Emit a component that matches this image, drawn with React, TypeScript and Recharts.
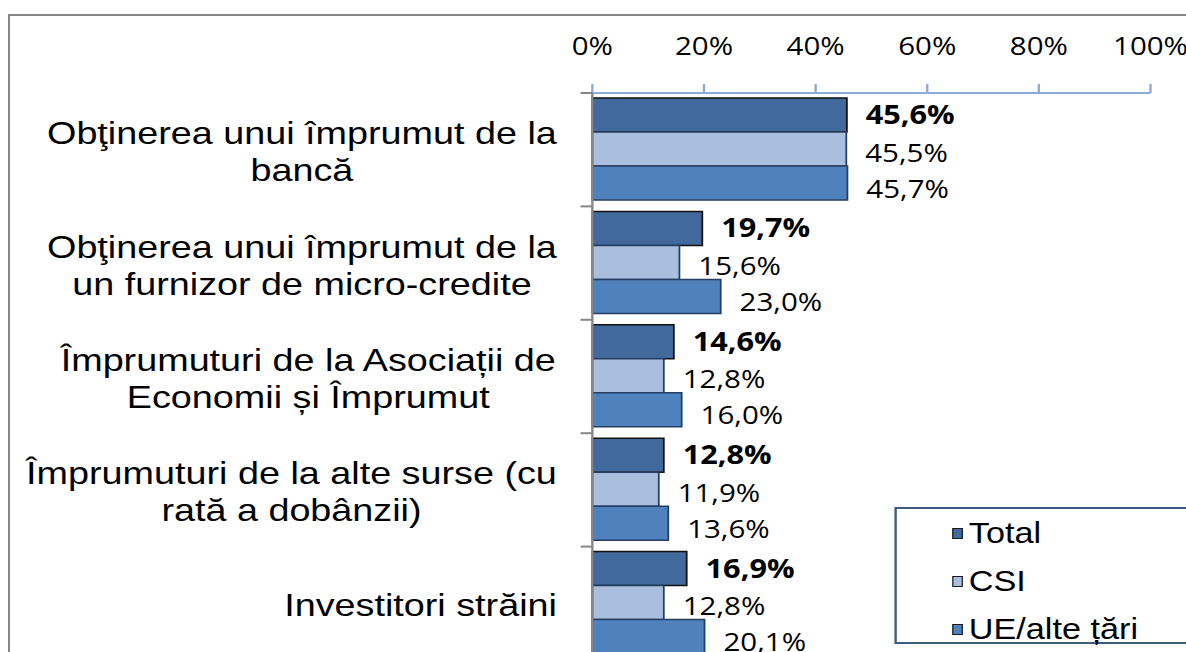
import React from "react";
import { BarChart, Bar, XAxis, YAxis, Legend, LabelList } from "recharts";

const categories = [
  "Obţinerea unui împrumut de la\nbancă",
  "Obţinerea unui împrumut de la\nun furnizor de micro-credite",
  "Împrumuturi de la Asociații de\nEconomii și Împrumut",
  "Împrumuturi de la alte surse (cu\nrată a dobânzii)",
  "Investitori străini",
];
const seriesNames = ["Total", "CSI", "UE/alte țări"];
const totalValues = [45.6, 19.7, 14.6, 12.8, 16.9];
const csiValues = [45.5, 15.6, 12.8, 11.9, 12.8];
const ueValues = [45.7, 23.0, 16.0, 13.6, 20.1];
const xTicks = [0, 20, 40, 60, 80, 100];

const data = categories.map((name, i) => ({
  name,
  total: totalValues[i],
  csi: csiValues[i],
  ue: ueValues[i],
}));

// the original picture is stretched horizontally, so draw narrower and scale
const SX = 1.18;
const W = 1005;
const H = 670;
const TOP = 93;
const BOTTOM = 10;
const AXIS_W = 502;
const BAND = (H - TOP - BOTTOM) / categories.length;
const ARIAL = "'Liberation Sans', Arial, sans-serif";
const CALIBRI = "'Open Sans', sans-serif";

let ctx: CanvasRenderingContext2D | null = null;
function textWidth(s: string, font: string) {
  if (!ctx) ctx = document.createElement("canvas").getContext("2d");
  if (!ctx) return s.length * 16;
  ctx.font = font;
  return ctx.measureText(s).width;
}

function CategoryTick({ y, payload }: any) {
  const lines = String(payload.value).split("\n");
  const maxW = Math.max(...lines.map((l) => textWidth(l, "32px 'Liberation Sans'")));
  const cx = 472 - maxW / 2;
  const n = lines.length;
  return (
    <g>
      <line x1={AXIS_W - 10} x2={AXIS_W} y1={y - BAND / 2} y2={y - BAND / 2} stroke="#868686" strokeWidth={2} />
      {lines.map((l, i) => (
        <text
          key={i}
          x={cx}
          y={y + (i - (n - 1) / 2) * 37 + 13}
          textAnchor="middle"
          fontFamily={ARIAL}
          fontSize={32}
          fill="#000"
        >
          {l}
        </text>
      ))}
    </g>
  );
}

const makeLabel = (bold: boolean, dy: number) => (props: any) => {
  const vb = props.viewBox || props;
  const x = vb.x ?? props.x;
  const y = vb.y ?? props.y;
  const width = vb.width ?? props.width;
  const height = vb.height ?? props.height;
  const v = Number(props.value);
  return (
    <text
      x={x + width + 16}
      y={y + height / 2 + dy}
      dominantBaseline="central"
      fontFamily={CALIBRI}
      fontSize={bold ? 26 : 25}
      fontWeight={bold ? 700 : 400}
      fill="#000"
    >
      {v.toFixed(1).replace(".", ",")}%
    </text>
  );
};

function LegendBox({ payload }: any) {
  const items = [...(payload || [])].sort(
    (a: any, b: any) => seriesNames.indexOf(a.value) - seriesNames.indexOf(b.value)
  );
  return (
    <div
      style={{
        width: 262,
        height: 137,
        boxSizing: "border-box",
        border: "2px solid #3d5a80",
        background: "#fff",
      }}
    >
      {items.map((p: any) => (
        <div key={p.value} style={{ height: 48, display: "flex", alignItems: "center" }}>
          <span
            style={{
              display: "inline-block",
              marginLeft: 47,
              width: 9,
              height: 11,
              boxSizing: "border-box",
              border: "1px solid #1a1a1a",
              background: p.color,
            }}
          />
          <span style={{ marginLeft: 5, fontFamily: ARIAL, fontSize: 29, color: "#000", lineHeight: "29px" }}>
            {p.value}
          </span>
        </div>
      ))}
    </div>
  );
}

export default function App() {
  return (
    <div
      style={{
        position: "absolute",
        left: 0,
        top: 0,
        width: 1186,
        height: 652,
        overflow: "hidden",
        background: "#fff",
      }}
    >
      <div
        style={{
          position: "absolute",
          left: 8,
          top: 14,
          width: 1400,
          height: 900,
          border: "2px solid #868686",
        }}
      />
      <div
        style={{
          position: "absolute",
          left: 0,
          top: 0,
          width: W,
          height: H,
          transform: `scaleX(${SX})`,
          transformOrigin: "0 0",
        }}
      >
        <BarChart
          width={W}
          height={H}
          data={data}
          layout="vertical"
          margin={{ top: 0, right: 30, bottom: BOTTOM, left: 0 }}
          barCategoryGap={5}
          barGap={0}
        >
          <XAxis
            type="number"
            orientation="top"
            domain={[0, 100]}
            ticks={xTicks}
            interval={0}
            tickFormatter={(v: number) => `${v}%`}
            height={TOP}
            axisLine={{ stroke: "#8eaad6", strokeWidth: 2 }}
            tickLine={{ stroke: "#8eaad6", strokeWidth: 2 }}
            tickSize={9}
            tickMargin={29}
            tick={{ fill: "#000", fontSize: 25, fontFamily: CALIBRI }}
          />
          <YAxis
            type="category"
            dataKey="name"
            width={AXIS_W}
            interval={0}
            axisLine={{ stroke: "#868686", strokeWidth: 2 }}
            tickLine={false}
            tick={<CategoryTick />}
          />
          <Legend
            verticalAlign="middle"
            align="center"
            content={<LegendBox />}
            wrapperStyle={{ position: "absolute", left: 758, top: 507, bottom: "auto", width: 262, height: 137 }}
          />
          <Bar dataKey="total" name="Total" fill="#41699b" stroke="#111111" strokeWidth={1.5} isAnimationActive={false}>
            <LabelList dataKey="total" content={makeLabel(true, -1)} />
          </Bar>
          <Bar dataKey="csi" name="CSI" fill="#aabfde" stroke="#243f62" strokeWidth={1.5} isAnimationActive={false}>
            <LabelList dataKey="csi" content={makeLabel(false, 3)} />
          </Bar>
          <Bar dataKey="ue" name="UE/alte țări" fill="#4f81bd" stroke="#243f62" strokeWidth={1.5} isAnimationActive={false}>
            <LabelList dataKey="ue" content={makeLabel(false, 5)} />
          </Bar>
        </BarChart>
      </div>
    </div>
  );
}
